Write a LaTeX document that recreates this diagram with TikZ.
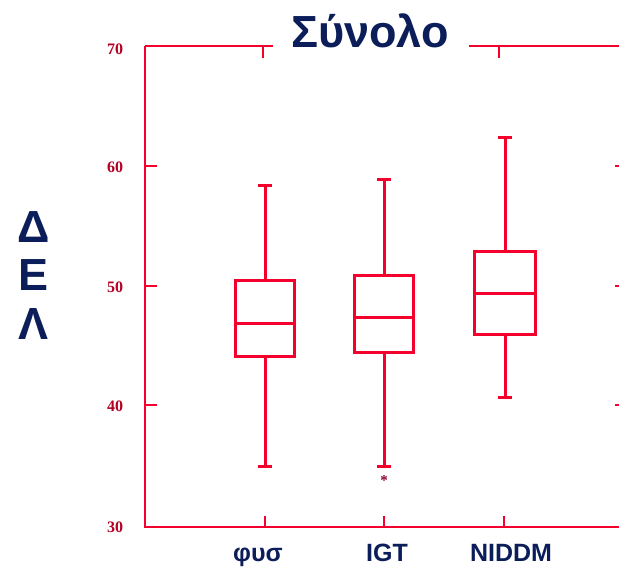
\documentclass[tikz,border=0pt]{standalone}
\usepackage{fontspec}
\setmainfont{Liberation Sans}
\newfontfamily\tickfont{Liberation Serif}
\definecolor{axred}{RGB}{245,0,45}
\definecolor{navy}{RGB}{12,30,90}
\definecolor{tickred}{RGB}{180,0,35}
\definecolor{starred}{RGB}{140,0,40}
\tikzset{
  axisline/.style={axred,line width=2.8pt},
  plotline/.style={axred,line width=3pt},
  ticklab/.style={tickred,font=\tickfont\fontsize{16}{16}\selectfont\bfseries,anchor=center,inner sep=0pt},
  catlab/.style={navy,font=\fontsize{25}{25}\selectfont\bfseries,anchor=base,inner sep=0pt},
  bigletter/.style={navy,font=\fontsize{45}{45}\selectfont\bfseries,anchor=base,inner sep=0pt},
}
\newcommand\bxplot[7]{% x, halfwidth, captop, q3, med, q1, capbot
  \draw[plotline] (#1-7,#3) -- (#1+7,#3);
  \draw[plotline] (#1,#3) -- (#1,#4);
  \draw[plotline] (#1-#2,#4) rectangle (#1+#2,#6);
  \draw[plotline] (#1-#2,#5) -- (#1+#2,#5);
  \draw[plotline] (#1,#6) -- (#1,#7);
  \draw[plotline] (#1-7,#7) -- (#1+7,#7);
}
\begin{document}
\begin{tikzpicture}[x=1pt,y=-1pt]
\useasboundingbox (0,0) rectangle (619,568);
% axes
\draw[axisline] (145,46) -- (145,527) -- (619,527);
\draw[axisline] (145,46) -- (273,46);
\draw[axisline] (469,46) -- (619,46);
% left ticks
\foreach \yy in {166,286,405} {
  \draw[axisline] (145,\yy) -- (157,\yy);
  \draw[axisline] (615,\yy) -- (619,\yy);
}
% top ticks
\foreach \xx in {263,499} \draw[axisline] (\xx,46) -- (\xx,58);
% bottom ticks
\foreach \xx in {265,384,504} \draw[axisline] (\xx,527) -- (\xx,516);
% tick labels
\node[ticklab] (t70) at (115,49) {70};
\node[ticklab] (t60) at (115,167) {60};
\node[ticklab] (t50) at (115,287) {50};
\node[ticklab] (t40) at (115,406) {40};
\node[ticklab] (t30) at (115,527) {30};
% boxes
\bxplot{265}{29.5}{185}{280}{323}{356}{466}
\bxplot{384}{29.5}{179}{275}{317}{352}{466}
\bxplot{505}{30.5}{137}{251}{293}{334}{397}
\node[starred,font=\tickfont\fontsize{15}{15}\selectfont\bfseries,inner sep=0pt] (outl) at (384,481) {*};
% labels
\node[bigletter] (title) at (370,47) {Σύνολο};
\node[bigletter] (l1) at (34,242) {Δ};
\node[bigletter] (l2) at (34,290) {Ε};
\node[bigletter] (l3) at (34,339) {Λ};
\node[catlab] (c1) at (258,561) {φυσ};
\node[catlab] (c2) at (387,561) {IGT};
\node[catlab] (c3) at (511,561) {NIDDM};
\end{tikzpicture}
\end{document}
